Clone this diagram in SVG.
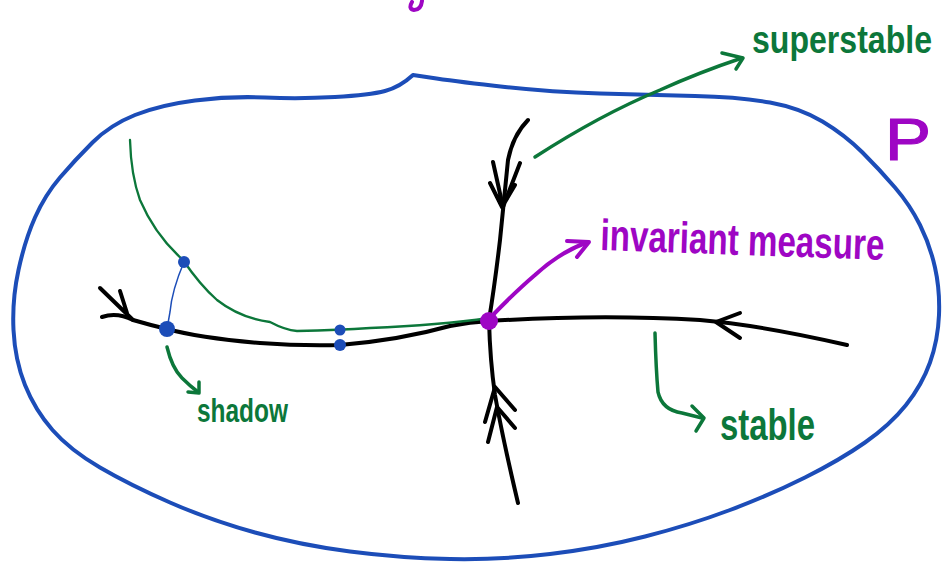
<svg xmlns="http://www.w3.org/2000/svg" width="943" height="565" viewBox="0 0 943 565">
<style>
.blob{fill:none;stroke:#1c4db8;stroke-width:4;stroke-linecap:round;stroke-linejoin:round}
.blk{fill:none;stroke:#000;stroke-width:4;stroke-linecap:round;stroke-linejoin:round}
.grn{fill:none;stroke:#0c773a;stroke-width:3.5;stroke-linecap:round;stroke-linejoin:round}
.grnthin{fill:none;stroke:#0c773a;stroke-width:2.3;stroke-linecap:round}
.pur{fill:none;stroke:#9e06c4;stroke-width:4;stroke-linecap:round;stroke-linejoin:round}
.bthin{fill:none;stroke:#1c4db8;stroke-width:1.5}
.bdot{fill:#1c4db8}
.tg{font-family:"Liberation Sans",Arial,sans-serif;fill:#0c773a;font-weight:bold}
.tp{font-family:"Liberation Sans",Arial,sans-serif;fill:#9e06c4;font-weight:bold}
</style>
<rect width="943" height="565" fill="#fff"/>
<g id="space">
<path class="blob" d="M413,75 L436.5,78.5 Q460,82 505,87 Q550,92 600,93.5 Q650,95 695,96 Q740,97 770,102.5 Q800,108 822.5,121.5 Q845,135 862.5,152.5 Q880,170 895,187.5 Q910,205 920,225 Q930,245 935,267.5 Q940,290 939,315 Q938,340 930,362.5 Q922,385 906,405 Q890,425 865,442.5 Q840,460 805,477.5 Q770,495 730,510 Q690,525 645,536.5 Q600,548 550,554 Q500,560 450,559 Q400,558 350,551.5 Q300,545 255,532.5 Q210,520 170,502.5 Q130,485 100,467.5 Q70,450 52.5,430 Q35,410 25,385 Q15,360 13.5,330 Q12,300 18.5,270 Q25,240 35,217.5 Q45,195 60,177.5 Q75,160 92.5,142.5 Q110,125 135,115 Q160,105 195,100.5 Q230,96 265,97.5 Q300,99 335,97 Q370,95 385,91 Q400,87 413,75"/>
<path class="pur" d="M412,2 Q408,9 414,10 Q421,10 422,1"/>
<text x="885" y="160" font-family="Liberation Sans,Arial,sans-serif" font-size="60" fill="#9e06c4" stroke="#9e06c4" stroke-width="1.2" textLength="46" lengthAdjust="spacingAndGlyphs">P</text>
</g>
<g id="connectors">
<path class="blk" d="M102,317 Q117,312 133,320 Q150,325 167,329 Q200,338 260,343 Q300,346 340,345 Q400,340 450,326 Q470,322 490,321 Q600,314 700,320 Q760,325 847,345"/>
<path class="blk" d="M100,288 L133,320 M120,291 L127,313"/>
<path class="blk" d="M740,313 L716,322 L740,338"/>
<path class="blk" d="M528,120 Q513,135 508,160 Q503,210 500,240 Q495,283 489,320 Q490,360 495,395 Q503,440 518,503"/>
<path class="blk" d="M493,162 L503,207 L520,163 M490,183 L502,207 L515,185"/>
<path class="blk" d="M485,422 L495,387 L515,410 M488,442 L497,407 L515,428"/>
<path class="grnthin" d="M130,140 Q131,175 140,200 Q155,235 183,260 Q200,285 217,300 Q240,318 270,322 Q285,330 297,331 Q340,330 370,328 Q440,325 489,318"/>
<path class="bthin" d="M184,262 Q172,290 170,312 L167,329"/>
<circle class="bdot" cx="184" cy="262" r="6"/>
<circle class="bdot" cx="167" cy="329" r="8"/>
<circle class="bdot" cx="340" cy="330" r="5.5"/>
<circle class="bdot" cx="340" cy="345" r="6"/>
<circle cx="489" cy="321" r="9" fill="#9e06c4"/>
<path class="grn" d="M535,157 Q600,115 660,90 Q700,72 742,58"/>
<path class="grn" d="M722,53 L743,58 L736,69"/>
<path class="pur" d="M490,318 Q515,292 535,275 Q560,252 588,242"/>
<path class="pur" d="M567,241 L589,242 L577,257"/>
<path class="grn" d="M655,333 Q656,370 658,392 Q662,410 682,413 L702,418"/>
<path class="grn" d="M692,406 L704,418 L696,431"/>
<path class="grn" d="M167,347 Q172,368 182,378 Q190,386 198,392"/>
<path class="grn" d="M188,392 L199,393 L199,382"/>
</g>
<g id="labels">
<text class="tg" x="752" y="53" font-size="38" textLength="180" lengthAdjust="spacingAndGlyphs">superstable</text>
<text class="tp" x="600" y="250" font-size="44" textLength="284" lengthAdjust="spacingAndGlyphs" transform="rotate(2 600 250)">invariant measure</text>
<text class="tg" x="720" y="440" font-size="44" textLength="95" lengthAdjust="spacingAndGlyphs">stable</text>
<text class="tg" x="197" y="422" font-size="34" textLength="91" lengthAdjust="spacingAndGlyphs">shadow</text>
</g>
</svg>
